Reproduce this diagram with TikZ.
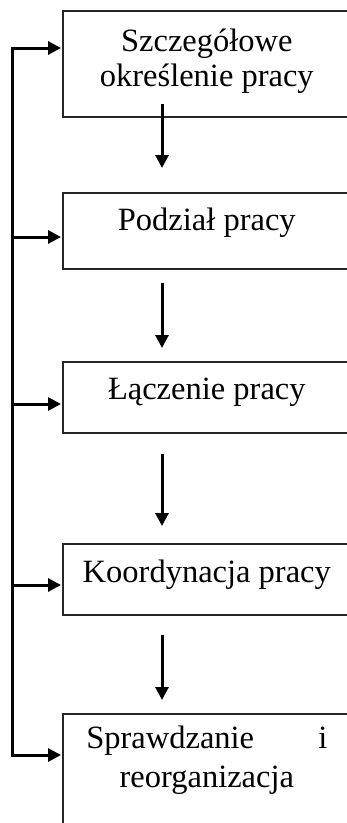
\documentclass[tikz,border=0pt]{standalone}
\usepackage{fontspec}
\setmainfont{Liberation Serif}
\usetikzlibrary{arrows.meta,positioning}

\begin{document}
\begin{tikzpicture}[x=1pt,y=-1pt,
    box/.style={draw=black!85, line width=1.6pt, anchor=north west,
      minimum width=288pt, inner xsep=0pt, inner ysep=0pt, align=center,
      font=\fontsize{32.5}{35}\selectfont},
    flow/.style={-{Triangle[length=13pt,width=13pt]}, line width=3pt},
  ]
  \useasboundingbox (0,0) rectangle (347,823);
  \clip (0,0) rectangle (347,823);

  % etapy organizacji pracy
  \node[box, text height=76pt, text depth=30pt] (b1) at (62,10) {Szczegółowe\\określenie pracy};
  \node[box, text height=38pt, text depth=38pt] (b2) at (62,192) {Podział pracy};
  \node[box, text height=38pt, text depth=33pt] (b3) at (62,361) {Łączenie pracy};
  \node[box, text height=39pt, text depth=32pt] (b4) at (62,543) {Koordynacja pracy};
  \node[box, text height=74pt, text depth=80pt] (b5) at (62,713)
    {\makebox[241pt]{Sprawdzanie\hfill i}\\[4pt]reorganizacja};

  % strzalki w dol
  \coordinate (ax) at (162,0);
  \draw[flow, shorten <=-14pt, shorten >=24pt] (b1.south -| ax) -- (b2.north -| ax);
  \draw[flow, shorten <=13pt, shorten >=13pt] (b2.south -| ax) -- (b3.north -| ax);
  \draw[flow, shorten <=20pt, shorten >=17pt] (b3.south -| ax) -- (b4.north -| ax);
  \draw[flow, shorten <=19pt, shorten >=13pt] (b4.south -| ax) -- (b5.north -| ax);

  % sprzezenie zwrotne
  \foreach \n/\y in {1/48,2/237,3/404,4/585,5/755}
    \coordinate (t\n) at (12,\y);
  \draw[line width=3pt, line cap=rect] (t1) -- (t5);
  \foreach \n in {1,...,5}
    \draw[flow, shorten >=1pt] (t\n) -- (t\n -| b\n.west);
\end{tikzpicture}
\end{document}
